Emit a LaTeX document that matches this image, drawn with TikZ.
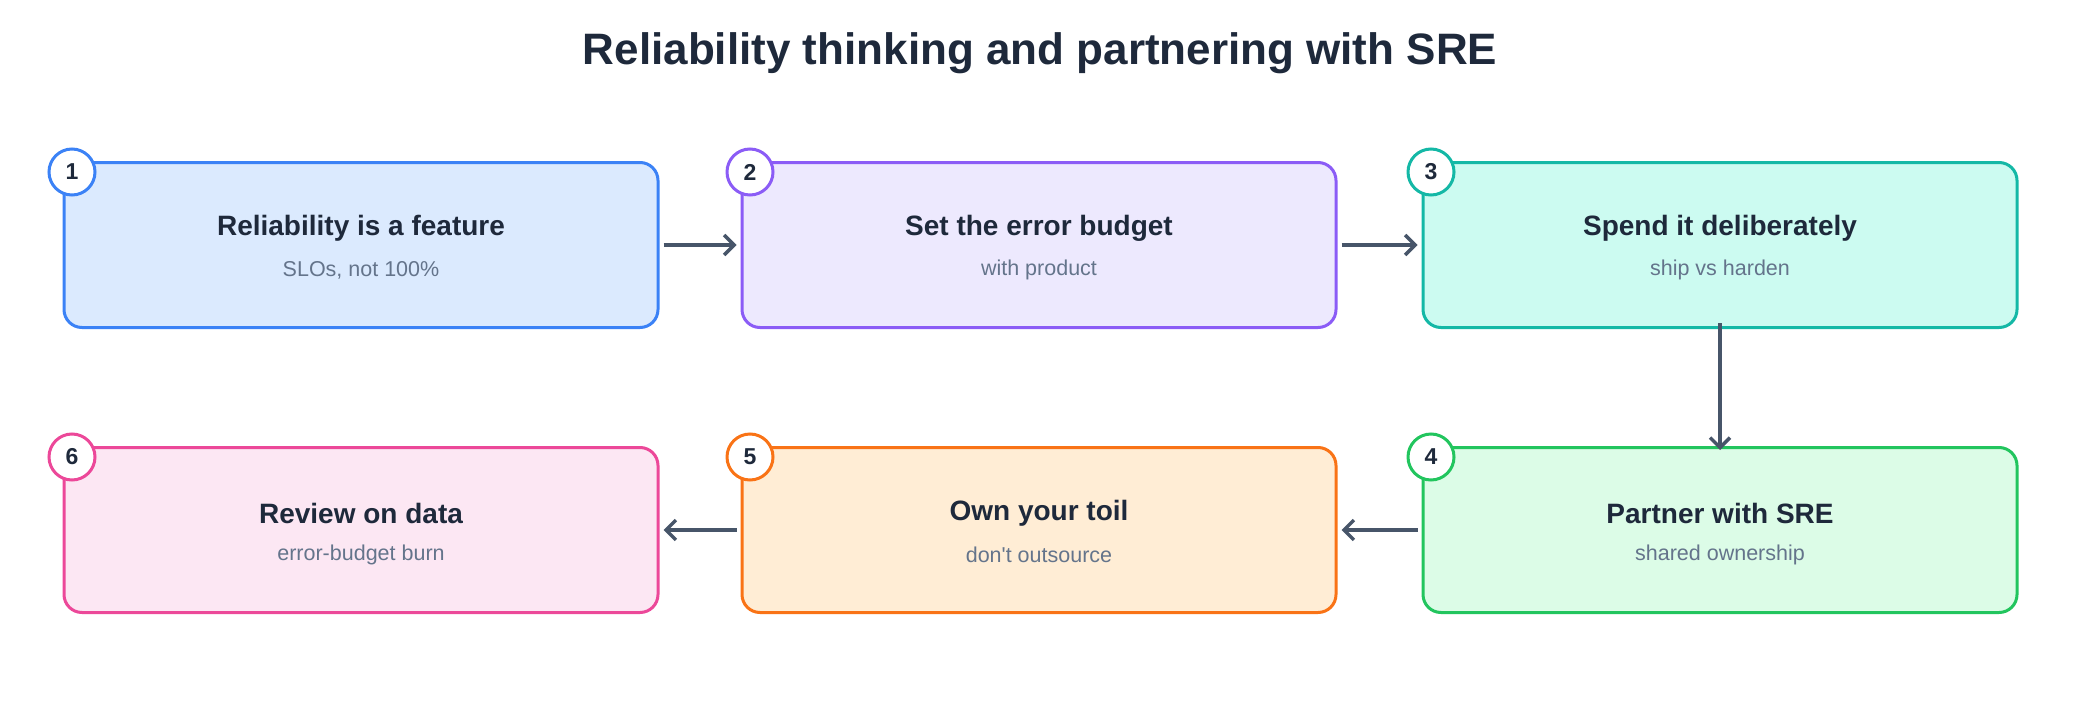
\documentclass[tikz,border=0pt]{standalone}
\usepackage{fontspec}
\setmainfont{Liberation Sans}
\usetikzlibrary{arrows.meta}
\definecolor{tx}{HTML}{1E293B}
\definecolor{sub}{HTML}{64748B}
\definecolor{arr}{HTML}{475569}
\definecolor{cA}{HTML}{3B82F6}\definecolor{fA}{HTML}{DBEAFE}
\definecolor{cB}{HTML}{8B5CF6}\definecolor{fB}{HTML}{EDE9FE}
\definecolor{cC}{HTML}{14B8A6}\definecolor{fC}{HTML}{CCFBF1}
\definecolor{cD}{HTML}{22C55E}\definecolor{fD}{HTML}{DCFCE7}
\definecolor{cE}{HTML}{F97316}\definecolor{fE}{HTML}{FFEDD5}
\definecolor{cF}{HTML}{EC4899}\definecolor{fF}{HTML}{FCE7F3}
\begin{document}
\begin{tikzpicture}[x=1pt,y=-1pt,
 box/.style={draw=#1,line width=3pt,rounded corners=18pt,minimum width=594pt,minimum height=165pt,inner sep=0pt},
 num/.style={circle,draw=#1,fill=white,line width=3pt,minimum size=46pt,inner sep=0pt,font=\fontsize{23}{23}\selectfont\bfseries,text=tx},
 ttl/.style={font=\fontsize{28}{28}\selectfont\bfseries,text=tx},
 sb/.style={font=\fontsize{21.5}{21.5}\selectfont,text=sub},
 ar/.style={draw=arr,line width=3.5pt,-{Straight Barb[length=10pt,width=20pt,line width=3.5pt]}}]
\useasboundingbox (0,0) rectangle (2080,704);
\node[font=\fontsize{44}{44}\selectfont\bfseries,text=tx] (title) at (1040,53) {Reliability thinking and partnering with SRE};
\def\mk#1#2#3#4#5#6{%
 \node[box=c#4,fill=f#4] (b#1) at (#2,#3) {};
 \node[ttl] (t#1) at (#2,#3-17) {#5};
 \node[sb] (s#1) at (#2,#3+25) {#6};
 \node[num=c#4] (n#1) at (#2-289,#3-73) {#1};}
\mk{1}{361}{245}{A}{Reliability is a feature}{SLOs, not 100\%}
\mk{2}{1039}{245}{B}{Set the error budget}{with product}
\mk{3}{1720}{245}{C}{Spend it deliberately}{ship vs harden}
\mk{4}{1720}{530}{D}{Partner with SRE}{shared ownership}
\mk{5}{1039}{530}{E}{Own your toil}{don\textquotesingle t outsource}
\mk{6}{361}{530}{F}{Review on data}{error-budget burn}
\draw[ar] ([xshift=4pt]b1.east) -- ([xshift=-4pt]b2.west);
\draw[ar] ([xshift=4pt]b2.east) -- ([xshift=-4pt]b3.west);
\draw[ar] ([yshift=6pt]b3.south) -- ([yshift=-4pt]b4.north);
\draw[ar] ([xshift=-4pt]b4.west) -- ([xshift=4pt]b5.east);
\draw[ar] ([xshift=-4pt]b5.west) -- ([xshift=4pt]b6.east);
\end{tikzpicture}
\end{document}
